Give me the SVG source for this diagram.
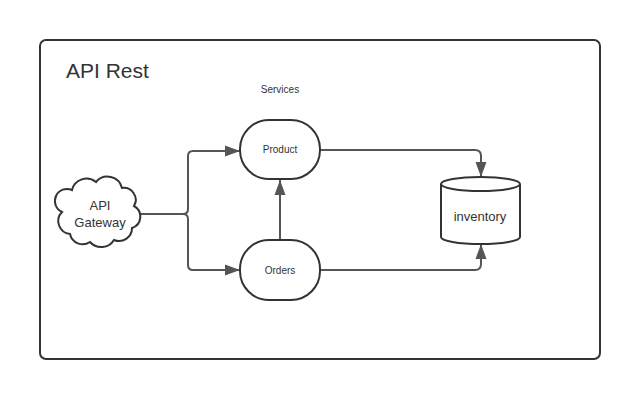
<svg xmlns="http://www.w3.org/2000/svg" width="640" height="400" viewBox="0 0 640 400">
<defs>
<style>
.shape{fill:#fff;stroke:#333;stroke-width:2}
.conn{fill:none;stroke:#555;stroke-width:2}
.lbl{font-family:"Liberation Sans",Arial,sans-serif;fill:#333;text-anchor:middle}
</style>
<marker id="arr" markerUnits="userSpaceOnUse" markerWidth="16" markerHeight="14" viewBox="0 0 16 14" refX="15" refY="7" orient="auto">
<path d="M0,1.5 L15,7 L0,12.5 z" fill="#555"/>
</marker>
</defs>
<rect width="640" height="400" fill="#fff"/>
<g id="container">
<rect x="40" y="40" width="560" height="319" rx="6" fill="#fff" stroke="#333" stroke-width="2"/>
<text x="66" y="78" class="lbl" style="text-anchor:start;font-size:21px">API Rest</text>
<text x="280" y="93" class="lbl" style="font-size:10px">Services</text>
</g>
<g id="connectors">
<path class="conn" d="M136,214 H183 Q188,214 188,209 V156 Q188,151 193,151 H240" marker-end="url(#arr)"/>
<path class="conn" d="M136,214 H183 Q188,214 188,219 V265 Q188,270 193,270 H240" marker-end="url(#arr)"/>
<path class="conn" d="M280,240 V180" marker-end="url(#arr)"/>
<path class="conn" d="M320,150 H475 Q481,150 481,156 V177" marker-end="url(#arr)"/>
<path class="conn" d="M320,270 H475 Q481,270 481,264 V244" marker-end="url(#arr)"/>
</g>
<g id="gateway">
<path class="shape" d="M70,234 a13,13 0 0 1 -8,-22 a12,12 0 0 1 10,-22 a15,15 0 0 1 24,-8 a15,15 0 0 1 26,6 a12,12 0 0 1 12,18 a12,12 0 0 1 -2,22 a13,13 0 0 1 -18,12 a15,15 0 0 1 -24,2 a13,13 0 0 1 -20,-8 z"/>
<text x="100" y="210" class="lbl" style="font-size:13px">API</text>
<text x="100" y="227" class="lbl" style="font-size:13px">Gateway</text>
</g>
<g id="product">
<rect class="shape" x="240" y="120" width="80" height="59" rx="29" ry="29"/>
<text x="280" y="153" class="lbl" style="font-size:10px">Product</text>
</g>
<g id="orders">
<rect class="shape" x="240" y="240" width="80" height="60" rx="29" ry="29"/>
<text x="280" y="274" class="lbl" style="font-size:10px">Orders</text>
</g>
<g id="inventory">
<path class="shape" d="M441,184 V237 A39,7 0 0 0 520,237 V184"/>
<ellipse class="shape" cx="480.5" cy="184" rx="39.5" ry="7"/>
<text x="480" y="221" class="lbl" style="font-size:13px">inventory</text>
</g>
</svg>
